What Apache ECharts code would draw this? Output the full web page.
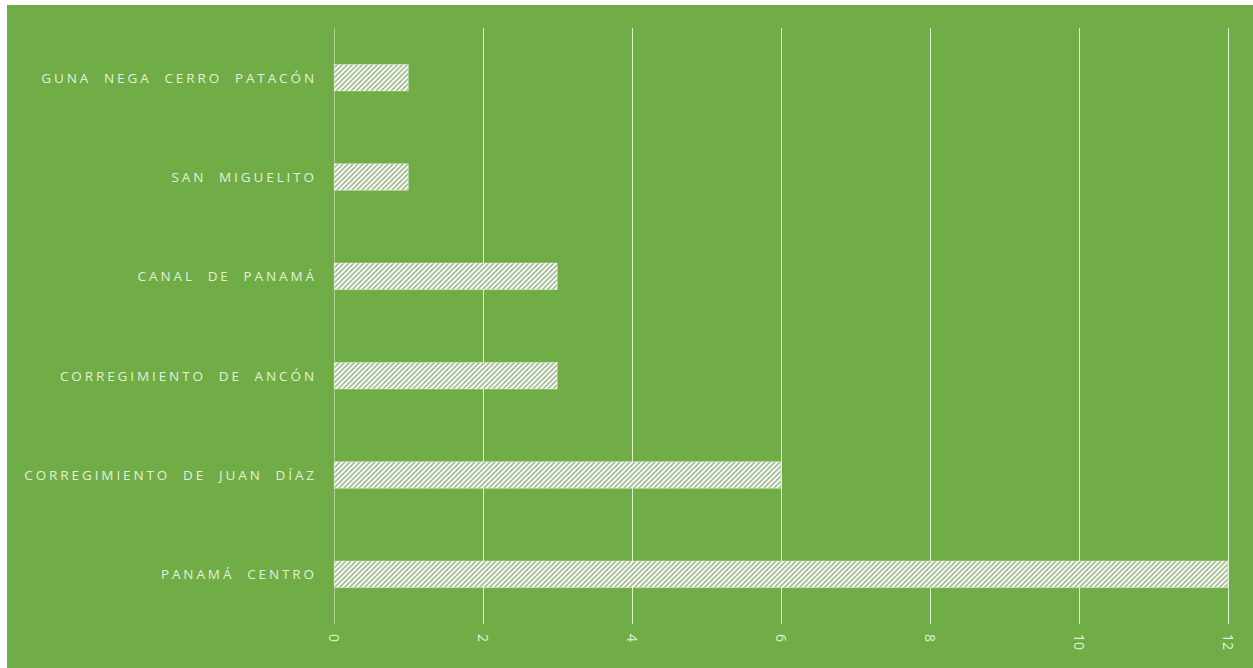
<!DOCTYPE html>
<html>
<head>
<meta charset="utf-8">
<script src="https://cdn.jsdelivr.net/npm/echarts@6/dist/echarts.min.js"></script>
<style>
  html, body { margin: 0; padding: 0; background: #ffffff; }
  #chart { position: absolute; left: 7px; top: 5px; width: 1246px; height: 663px; }
  #chart svg text[text-anchor="end"] { letter-spacing: 2.9px; }
</style>
</head>
<body>
<div id="chart"></div>
<script>
const categories = [
  'PANAMÁ  CENTRO',
  'CORREGIMIENTO  DE  JUAN  DÍAZ',
  'CORREGIMIENTO  DE  ANCÓN',
  'CANAL  DE  PANAMÁ',
  'SAN  MIGUELITO',
  'GUNA  NEGA  CERRO  PATACÓN'
];
const values = [12, 6, 3, 3, 1, 1];
const xTicks = [0, 2, 4, 6, 8, 10, 12];

function makeHatch() {
  const s = 5;
  const c = document.createElement('canvas');
  c.width = s; c.height = s;
  const ctx = c.getContext('2d');
  ctx.fillStyle = '#f3f7ef';
  ctx.fillRect(0, 0, s, s);
  ctx.strokeStyle = '#9db38c';
  ctx.lineWidth = 1.4;
  ctx.beginPath();
  ctx.moveTo(-1, s + 1); ctx.lineTo(s + 1, -1);
  ctx.moveTo(-1, 1); ctx.lineTo(1, -1);
  ctx.moveTo(s - 1, s + 1); ctx.lineTo(s + 1, s - 1);
  ctx.stroke();
  return c;
}

const chart = echarts.init(document.getElementById('chart'), null, { renderer: 'svg' });
chart.setOption({
  backgroundColor: '#70ad47',
  animation: false,
  grid: { left: 327, right: 25, top: 23, bottom: 44 },
  xAxis: {
    type: 'value',
    min: xTicks[0],
    max: xTicks[xTicks.length - 1],
    interval: 2,
    axisLine: { show: false },
    axisTick: { show: false },
    splitLine: { show: true, lineStyle: { color: '#e0eed3', width: 1 } },
    axisLabel: {
      rotate: -90,
      margin: 10,
      color: '#e2f0d9',
      fontFamily: 'Open Sans',
      fontSize: 14,
      formatter: v => String(v)
    }
  },
  yAxis: {
    type: 'category',
    data: categories,
    axisLine: { show: true, lineStyle: { color: '#a9d18e', width: 1 } },
    axisTick: { show: false },
    axisLabel: {
      color: '#e2f0d9',
      fontFamily: 'Open Sans',
      fontSize: 13.5,
      margin: 17
    }
  },
  series: [{
    type: 'bar',
    data: values,
    barWidth: 27,
    itemStyle: {
      color: { image: makeHatch(), repeat: 'repeat' },
      borderColor: '#eef5e8',
      borderWidth: 0.5
    }
  }]
});
</script>
</body>
</html>
